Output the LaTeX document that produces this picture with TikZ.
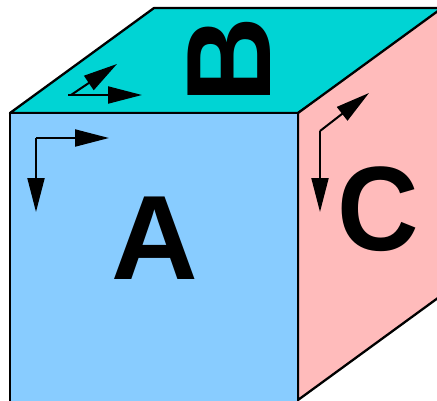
\documentclass[tikz,border=0pt]{standalone}
\usepackage{fontspec}
\usepackage{xcolor}
\setmainfont{Liberation Sans}
\usetikzlibrary{arrows.meta}
\definecolor{faceA}{RGB}{136,204,255}
\definecolor{faceB}{RGB}{0,212,212}
\definecolor{faceC}{RGB}{255,187,187}
\tikzset{
  face/.style={draw=black,line width=2.3pt,line join=round},
  axis/.style={line width=2pt,-{Triangle[length=34pt,width=17pt]}},
  facelabel/.style={inner sep=0pt,anchor=base,font=\fontsize{120}{120}\selectfont\bfseries}
}
\begin{document}
\begin{tikzpicture}[x=1pt,y=-1pt]
\useasboundingbox (0,0) rectangle (437,400);
\clip (0,0) rectangle (437,400);
\draw[face,fill=faceB] (10,113)--(154,8)--(450,8)--(298,113)--cycle;
\draw[face,fill=faceC] (298,113)--(442,8)--(442,295)--(298,400)--cycle;
\draw[face,fill=faceA] (10,113)--(298,113)--(298,410)--(10,410)--cycle;
% axes on face A
\coordinate (a0) at (36,138);
\coordinate (a1) at (109,138);
\coordinate (a2) at (36,212);
\draw[axis] (a0)--(a1);
\draw[axis] (a0)--(a2);
% axes on face B
\coordinate (b0) at (71,95);
\coordinate (b1) at (142,95);
\coordinate (b2) at (117,64);
\coordinate (b3) at (68,95);
\draw[axis] (b3)--(b1);
\draw[axis] (b0)--(b2);
% axes on face C
\coordinate (c0) at (320,131);
\coordinate (c1) at (320,212);
\coordinate (c2) at (369,93);
\draw[axis] (c0)--(c1);
\draw[axis] (c0)--(c2);
\node[facelabel] (labelA) at (154.5,279) {A};
\node[facelabel,rotate=90] (labelB) at (270,60) {B};
\node[facelabel,xscale=0.94] (labelC) at (378,250.5) {C};
\end{tikzpicture}
\end{document}
